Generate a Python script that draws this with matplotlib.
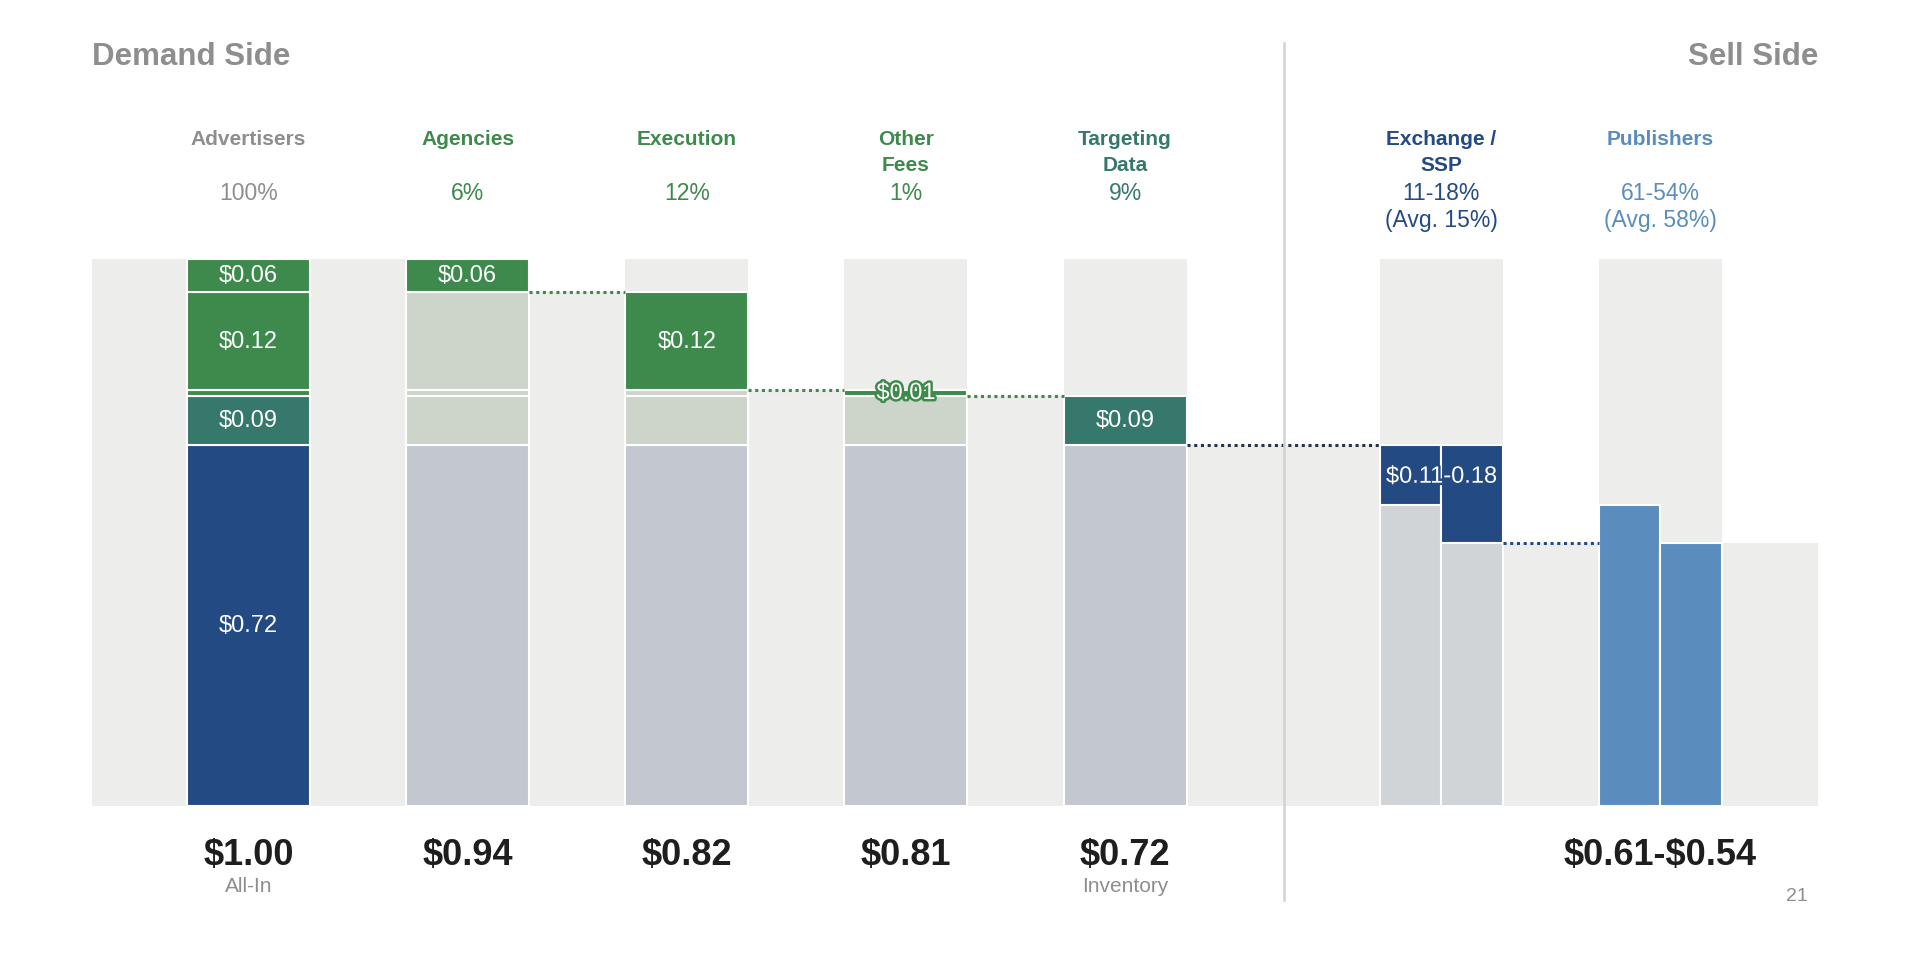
import numpy as np
import matplotlib
matplotlib.use("Agg")
import matplotlib.pyplot as plt
import matplotlib.patheffects as path_effects
from matplotlib import transforms

plt.rcParams['font.family'] = ['Liberation Sans', 'DejaVu Sans']
plt.rcParams['text.parse_math'] = False

# column headers and shares
headers = ["Advertisers", "Agencies", "Execution", "Other\nFees", "Targeting\nData", "Exchange /\nSSP", "Publishers"]
shares = ["100%", "6%", "12%", "1%", "9%", "11-18%\n(Avg. 15%)", "61-54%\n(Avg. 58%)"]
totals = ["$1.00", "$0.94", "$0.82", "$0.81", "$0.72", "", "$0.61-$0.54"]
sublabels = ["All-In", "", "", "", "Inventory", "", ""]

# stacked pieces of the $1.00 (heights as drawn, bottom to top)
fee_heights = [0.66, 0.09, 0.01, 0.18, 0.06]
fee_labels = ["$0.72", "$0.09", "$0.01", "$0.12", "$0.06"]
# exchange take, low / high
exchange_cut = [0.11, 0.18]
exchange_label = "$0.11-0.18"

# colours
navy = "#244a84"
green = "#3e8a4c"
teal = "#36786c"
steel = "#5a8dbd"
inv_gray = "#c3c7d0"
sage = "#cdd4ca"
exch_gray = "#d0d4d6"
bg = "#ededeb"
fee_colors = [navy, teal, green, green, green]
head_colors = ["#8e8e8e", green, green, green, teal, navy, steel]

# layout
centers = np.array([0, 1, 2, 3, 4, 5.444, 6.444])
bw = 0.5614
x_left, x_right = -0.715, 7.163
divider_x = 4.725

fig = plt.figure(figsize=(19.3, 9.62), dpi=100)
ax = fig.add_axes([92 / 1930, 155 / 962, 1726 / 1930, 547 / 962])
ax.set_xlim(x_left, x_right)
ax.set_ylim(0, 1)
ax.axis('off')

tops = np.cumsum(fee_heights)
bottoms = tops - np.array(fee_heights)
total = tops[-1]
inventory = fee_heights[0]
publisher = [inventory - c for c in exchange_cut]

# running level after each column (drives the grey steps between columns)
levels = [total, total]
for k in range(4, 0, -1):
    levels.append(levels[-1] - fee_heights[k])
levels.append(publisher[-1])  # after exchange
levels.append(publisher[-1])  # right margin

# background: columns full height, gaps stepped
for c in centers:
    ax.bar(c, total, bw, color=bg, zorder=0)
edges = [x_left] + [c + bw / 2 for c in centers]
nexts = [c - bw / 2 for c in centers] + [x_right]
for i, (a, b) in enumerate(zip(edges, nexts)):
    ax.bar(a, levels[i], b - a, align='edge', color=bg, zorder=0)

seg_kw = dict(edgecolor='white', linewidth=1.5, zorder=2)
lbl_kw = dict(ha='center', va='center', color='white', fontsize=17, zorder=5)

# advertisers: full stack
for k in range(5):
    ax.bar(centers[0], fee_heights[k], bw, bottom=bottoms[k], color=fee_colors[k], **seg_kw)
    if k != 2:
        ax.text(centers[0], bottoms[k] + fee_heights[k] / 2, fee_labels[k], **lbl_kw)

# agencies .. targeting: one fee highlighted per column
for col in range(1, 5):
    hk = 5 - col
    for k in range(hk + 1):
        if k == hk:
            color = fee_colors[k]
        elif k == 0:
            color = inv_gray
        else:
            color = sage
        ax.bar(centers[col], fee_heights[k], bw, bottom=bottoms[k], color=color, **seg_kw)
    ymid = bottoms[hk] + fee_heights[hk] / 2
    if fee_heights[hk] < 0.03:
        ax.text(centers[col], ymid, fee_labels[hk], **lbl_kw,
                path_effects=[path_effects.Stroke(linewidth=3.5, foreground=green), path_effects.Normal()])
    else:
        ax.text(centers[col], ymid, fee_labels[hk], **lbl_kw)

# exchange and publishers: two halves each
for h, cut in enumerate(exchange_cut):
    xh = centers[5] - bw / 4 + h * bw / 2
    ax.bar(xh, inventory - cut, bw / 2, color=exch_gray, **seg_kw)
    ax.bar(xh, cut, bw / 2, bottom=inventory - cut, color=navy, **seg_kw)
    xp = centers[6] - bw / 4 + h * bw / 2
    ax.bar(xp, publisher[h], bw / 2, color=steel, **seg_kw)
ax.text(centers[5], inventory - np.mean(exchange_cut) * 0.4, exchange_label, **lbl_kw,
        path_effects=[path_effects.Stroke(linewidth=3.5, foreground=navy), path_effects.Normal()])

# dotted connectors
dot_colors = [green, green, green, "#24324a", navy]
for i, col in enumerate(range(1, 6)):
    lvl = levels[col + 1]
    x0 = centers[col] + bw / 2
    x1 = centers[col + 1] - bw / 2
    ax.plot([x0, x1], [lvl, lvl], ls=(0, (1, 1.2)), lw=2.2, color=dot_colors[i], zorder=3)

# divider between demand and sell side
ax.plot([divider_x, divider_x], [1.395, -0.172], color="#d2d2d2", lw=1.8, clip_on=False, zorder=4)

# texts
tf = transforms.blended_transform_factory(ax.transData, fig.transFigure)
row_y = [0.8555, 0.828, 0.7985, 0.771]
for c, head, share, hc in zip(centers, headers, shares, head_colors):
    for r, line in enumerate(head.split("\n")):
        ax.text(c, row_y[r], line, transform=tf, ha='center', va='center',
                fontsize=15, fontweight='bold', color=hc)
    for r, line in enumerate(share.split("\n")):
        ax.text(c, row_y[2 + r], line, transform=tf, ha='center', va='center',
                fontsize=16.5, color=hc)

for c, t, s in zip(centers, totals, sublabels):
    ax.text(c, 0.111, t, transform=tf, ha='center', va='center',
            fontsize=26, fontweight='bold', color='#1e1e1e')
    ax.text(c, 0.079, s, transform=tf, ha='center', va='center', fontsize=15, color='#8e8e8e')

fig.text(92 / 1930, 0.9405, "Demand Side", ha='left', va='center', fontsize=22.5,
         fontweight='bold', color='#8e8e8e')
fig.text(1818 / 1930, 0.9405, "Sell Side", ha='right', va='center', fontsize=22.5,
         fontweight='bold', color='#8e8e8e')
fig.text(1797 / 1930, 0.0686, "21", ha='center', va='center', fontsize=14, color='#8e8e8e')

fig.savefig("out.png", dpi=100, facecolor='white')
